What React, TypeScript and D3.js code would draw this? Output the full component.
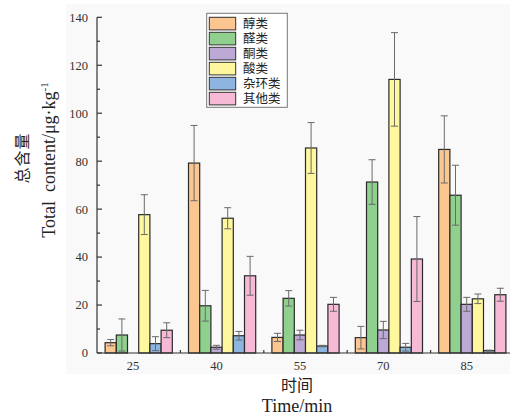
import React from 'react'
import * as d3 from 'd3'

// time points (min)
const times = ['25', '40', '55', '70', '85']
const classes = ['醇类', '醛类', '酮类', '酸类', '杂环类', '其他类']
const colors = ['#FCC690', '#8FD08F', '#BDA9D6', '#FEF79E', '#8DB5E0', '#F6B9D6']

// mean values per class, one entry per time point
const alcohols = [4.3, 79.2, 6.5, 6.4, 84.9]
const aldehydes = [7.5, 19.7, 22.8, 71.3, 65.8]
const ketones = [0, 2.4, 7.5, 9.6, 20.3]
const acids = [57.7, 56.2, 85.5, 114.1, 22.6]
const heterocycles = [3.9, 7.2, 2.9, 2.4, 1.0]
const others = [9.5, 32.2, 20.3, 39.2, 24.3]

// error bar half-lengths
const alcoholsErr = [1.3, 15.7, 1.7, 4.7, 14]
const aldehydesErr = [6.7, 6.4, 3.2, 9.3, 12.5]
const ketonesErr = [0, 0.8, 2, 3.6, 2.9]
const acidsErr = [8.3, 4.4, 10.6, 19.5, 2]
const heterocyclesErr = [2.9, 1.8, 0.3, 1.6, 0.2]
const othersErr = [3.1, 8.1, 2.9, 17.7, 2.7]

const yTicks = [0, 20, 40, 60, 80, 100, 120, 140]

const W = 510
const H = 417
const left = 97
const bottom = 353

const serif = '"Liberation Serif", "DejaVu Serif", "Noto Sans CJK SC", serif'
const cjk = '"Noto Sans CJK SC", "Liberation Serif", serif'

export default function App() {
  const series = [alcohols, aldehydes, ketones, acids, heterocycles, others]
  const errs = [alcoholsErr, aldehydesErr, ketonesErr, acidsErr, heterocyclesErr, othersErr]

  const x = d3.scaleBand().domain(times).range([left, left + 5 * 83.4]).padding(0)
  const step = x.bandwidth()
  const groupW = 67.2
  const xs = d3
    .scaleBand()
    .domain(classes)
    .range([(step - groupW) / 2, (step + groupW) / 2])
    .padding(0)
  const bw = xs.bandwidth()
  const y = d3.scaleLinear().domain([0, 140]).range([bottom, 17.3])

  const minorY = d3.range(10, 140, 20)
  const boundaries = times.slice(1).map((t) => x(t) as number)

  return (
    <svg width={W} height={H} style={{ position: 'absolute', left: 0, top: 0, background: '#fff' }}>
      <rect x={66} y={4} width={W - 66} height={370} fill="#f9f9f9" />

      {/* bars */}
      {times.map((t, i) => (
        <g key={t} transform={`translate(${x(t)},0)`}>
          {series.map((s, j) =>
            s[i] > 0 ? (
              <rect
                key={j}
                x={xs(classes[j])}
                y={y(s[i])}
                width={bw}
                height={bottom - y(s[i])}
                fill={colors[j]}
                stroke="#2a2a2a"
                strokeWidth={1.2}
              />
            ) : null
          )}
          {series.map((s, j) => {
            if (s[i] <= 0) return null
            const cx = (xs(classes[j]) as number) + bw / 2
            const hi = y(s[i] + errs[j][i])
            const lo = y(Math.max(0, s[i] - errs[j][i]))
            return (
              <g key={'e' + j} stroke="#6a6a6a" strokeWidth={1}>
                <line x1={cx} x2={cx} y1={hi} y2={lo} />
                <line x1={cx - 3.5} x2={cx + 3.5} y1={hi} y2={hi} />
                <line x1={cx - 3.5} x2={cx + 3.5} y1={lo} y2={lo} />
              </g>
            )
          })}
        </g>
      ))}

      {/* axes */}
      <g stroke="#333" strokeWidth={1.2}>
        <line x1={left} x2={left} y1={17.3} y2={bottom} />
        <line x1={left} x2={W} y1={bottom} y2={bottom} />
        {yTicks.map((v) => (
          <line key={v} x1={left} x2={left + 5} y1={y(v)} y2={y(v)} />
        ))}
        {minorY.map((v) => (
          <line key={v} x1={left} x2={left + 3} y1={y(v)} y2={y(v)} />
        ))}
        {boundaries.map((b, i) => (
          <line key={i} x1={b} x2={b} y1={bottom} y2={bottom - 3} />
        ))}
      </g>

      {yTicks.map((v) => (
        <text
          key={v}
          x={88}
          y={y(v)}
          dy="0.35em"
          textAnchor="end"
          fontFamily={serif}
          fontSize={12.5}
          fill="#333"
        >
          {v}
        </text>
      ))}
      {times.map((t) => (
        <text
          key={t}
          x={(x(t) as number) + step / 2 - bw / 2}
          y={366}
          dy="0.35em"
          textAnchor="middle"
          fontFamily={serif}
          fontSize={12.5}
          fill="#333"
        >
          {t}
        </text>
      ))}

      {/* axis titles */}
      <text x={297} y={391} textAnchor="middle" fontFamily={cjk} fontSize={16} fill="#222">
        时间
      </text>
      <text x={297} y={412} textAnchor="middle" fontFamily={serif} fontSize={18} fill="#222">
        Time/min
      </text>
      <text
        transform="translate(28,158) rotate(-90)"
        textAnchor="middle"
        fontFamily={cjk}
        fontSize={16}
        letterSpacing={1}
        fill="#222"
      >
        总含量
      </text>
      <text
        transform="translate(55,160) rotate(-90)"
        textAnchor="middle"
        fontFamily={serif}
        fontSize={18}
        fill="#222"
      >
        {'Total\u00a0 content/μg·kg'}
        <tspan fontSize={11} dy={-7}>-1</tspan>
      </text>

      {/* legend */}
      <rect x={206.7} y={13.3} width={80.6} height={94} fill="#fff" stroke="#777" strokeWidth={1} />
      {classes.map((c, j) => (
        <g key={c} transform={`translate(0,${17.3 + j * 15})`}>
          <rect x={209.3} y={0} width={26.4} height={12.6} fill={colors[j]} stroke="#333" strokeWidth={1} />
          <text x={243} y={6.5} dy="0.35em" fontFamily={cjk} fontSize={12.5} fill="#222">
            {c}
          </text>
        </g>
      ))}
    </svg>
  )
}
